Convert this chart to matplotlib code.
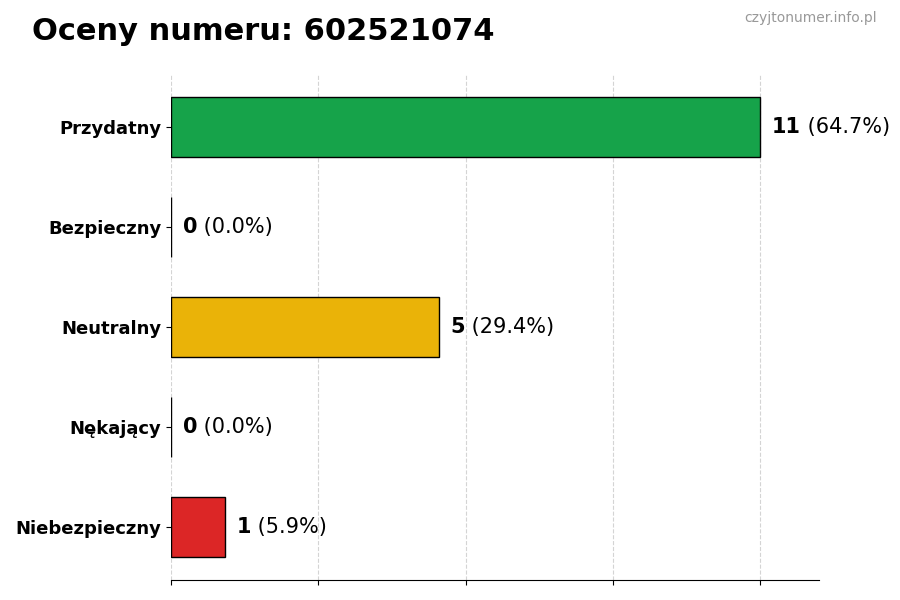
import matplotlib
matplotlib.use("Agg")
import matplotlib.pyplot as plt
import numpy as np

categories = ["Przydatny", "Bezpieczny", "Neutralny", "Nękający", "Niebezpieczny"]
counts = [11, 0, 5, 0, 1]
percents = ["64.7%", "0.0%", "29.4%", "0.0%", "5.9%"]
colors = ["#16a34a", "#6b7280", "#eab308", "#ea580c", "#dc2626"]
title = "Oceny numeru: 602521074"
watermark = "czyjtonumer.info.pl"

fig = plt.figure(figsize=(9, 6), dpi=100)
ax = fig.add_axes([0.19, 0.034, 0.72, 0.842])

y = np.arange(len(categories))
ax.barh(y, counts, height=0.6, color=colors, edgecolor="black", linewidth=1, zorder=2)
ax.set_yticks(y)
ax.set_yticklabels(categories, fontsize=13, fontweight="bold")
ax.invert_yaxis()

mx = max(counts)
ax.set_xlim(0, mx * 1.1)
ax.set_xticks(np.linspace(0, mx, 5))
ax.set_xticklabels([])
ax.grid(axis="x", linestyle="--", color="#d0d0d0", linewidth=0.8, alpha=0.9, zorder=0)
ax.set_axisbelow(True)
for s in ["top", "right", "left"]:
    ax.spines[s].set_visible(False)

for yi, c, p in zip(y, counts, percents):
    t = ax.text(c + mx * 0.02, yi, str(c), fontsize=15, fontweight="bold",
                va="center", ha="left")
    ax.annotate(f" ({p})", xy=(1, 0), xycoords=t, fontsize=15,
                va="bottom", ha="left")

fig.text(0.036, 0.972, title, fontsize=22, fontweight="bold", va="top", ha="left")
fig.text(0.974, 0.982, watermark, fontsize=10, color="#999999", va="top", ha="right")

fig.savefig("out.png", dpi=100)
